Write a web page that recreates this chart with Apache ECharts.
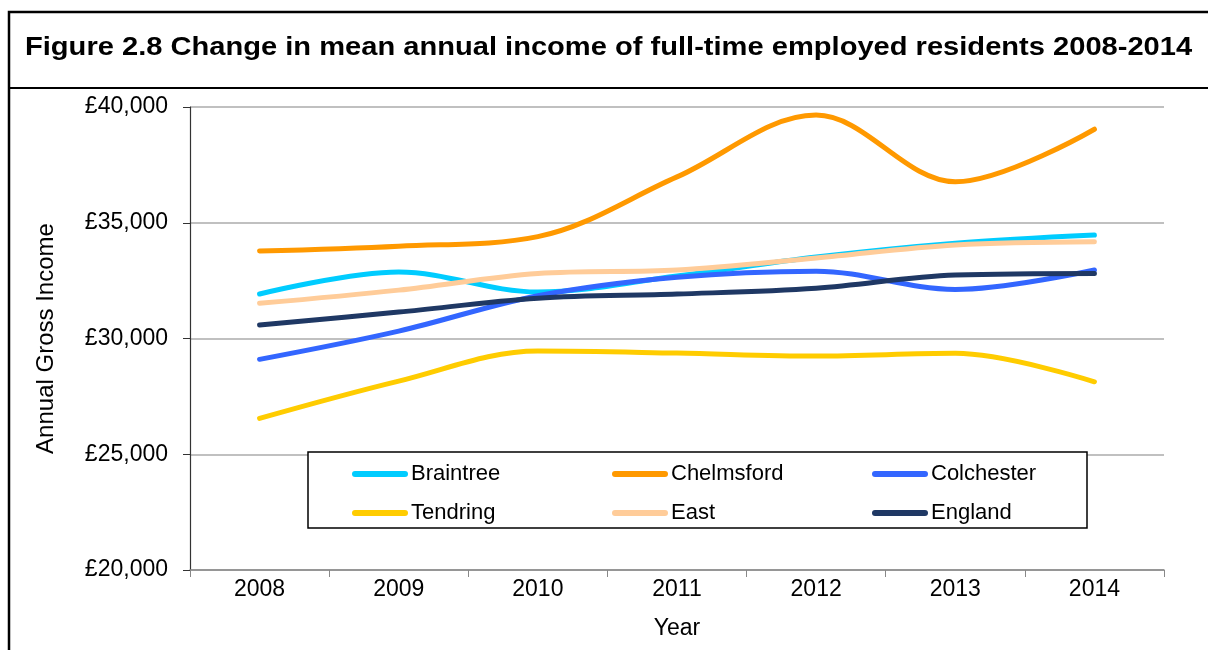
<!DOCTYPE html>
<html>
<head>
<meta charset="utf-8">
<script src="https://cdn.jsdelivr.net/npm/echarts@6/dist/echarts.min.js"></script>
<style>html,body{margin:0;padding:0;background:#fff;}#chart{width:1208px;height:650px;}</style>
</head>
<body>
<div id="chart"></div>
<script>
const years = ['2008','2009','2010','2011','2012','2013','2014'];
const braintree  = [31920, 32870, 32010, 32700, 33520, 34120, 34470];
const chelmsford = [33780, 33990, 34400, 36980, 39650, 36770, 39040];
const colchester = [29100, 30320, 31850, 32650, 32910, 32120, 32960];
const tendring   = [26550, 28160, 29460, 29370, 29240, 29360, 28130];
const east       = [31520, 32090, 32810, 32960, 33480, 34040, 34180];
const england    = [30580, 31140, 31740, 31920, 32170, 32740, 32810];
const seriesNames = ['Braintree','Chelmsford','Colchester','Tendring','East','England'];
const seriesColors = ['#00CCFF','#FF9900','#3366FF','#FFCC00','#FFCC99','#1F3864'];
const seriesData = [braintree, chelmsford, colchester, tendring, east, england];
const titleText = 'Figure 2.8 Change in mean annual income of full-time employed residents 2008-2014';

const FONT = 'Liberation Sans, Arial, sans-serif';
const chart = echarts.init(document.getElementById('chart'), null, {renderer:'canvas'});
chart.setOption({
  animation: false,
  backgroundColor: '#fff',
  textStyle: {fontFamily: FONT},
  graphic: [
    {type:'rect', z:10, shape:{x:9, y:12, width:1215, height:700}, style:{fill:'none', stroke:'#000', lineWidth:2.5}},
    {type:'line', z:10, shape:{x1:9, y1:88, x2:1208, y2:88}, style:{stroke:'#000', lineWidth:2}},
    {type:'text', z:10, x:25, y:34, scaleX:1.09, style:{text:titleText, font:'bold 26.7px ' + FONT, fill:'#000'}},
    {type:'rect', z:3, shape:{x:308, y:452, width:779, height:76}, style:{fill:'#fff', stroke:'#000', lineWidth:1.5}}
  ],
  grid: {left:190, right:44, top:107, bottom:80, containLabel:false},
  legend: {
    z: 5,
    left: 347, top: 458, width: 800,
    orient: 'horizontal',
    itemWidth: 56, itemHeight: 14, itemGap: 17,
    data: seriesNames.map((n,i)=>({name:n, icon:'path://M3,3 L53,3 A3,3 0 0 1 53,9 L3,9 A3,3 0 0 1 3,3 Z'})),
    textStyle: {fontSize:22, color:'#000', width:184, lineHeight:18, fontFamily: FONT, padding:[0,0,0,-2]}
  },
  xAxis: {
    type:'category', data: years, boundaryGap:true,
    name:'Year', nameLocation:'middle', nameGap:47,
    nameTextStyle:{fontSize:23, color:'#000'},
    axisLine:{lineStyle:{color:'#888', width:1.5}},
    axisTick:{show:true, length:7, lineStyle:{color:'#888'}},
    axisLabel:{fontSize:23, color:'#000', margin:8}
  },
  yAxis: {
    type:'value', min:20000, max:40000, interval:5000,
    name:'Annual Gross Income', nameLocation:'middle', nameGap:132,
    nameTextStyle:{fontSize:24, color:'#000'},
    axisLine:{show:true, lineStyle:{color:'#333', width:1.2}},
    axisTick:{show:true, length:7, lineStyle:{color:'#333'}},
    axisLabel:{fontSize:23, color:'#000', margin:22, formatter: v => '£' + v.toLocaleString('en-GB')},
    splitLine:{lineStyle:{color:'#C0C0C0', width:2}}
  },
  series: seriesNames.map((n,i)=>({
    name:n, type:'line', data: seriesData[i], smooth:0.35,
    symbol:'none', color: seriesColors[i],
    lineStyle:{width:5, color: seriesColors[i], cap:'round', join:'round'},
    itemStyle:{color: seriesColors[i]}
  }))
});
</script>
</body>
</html>
